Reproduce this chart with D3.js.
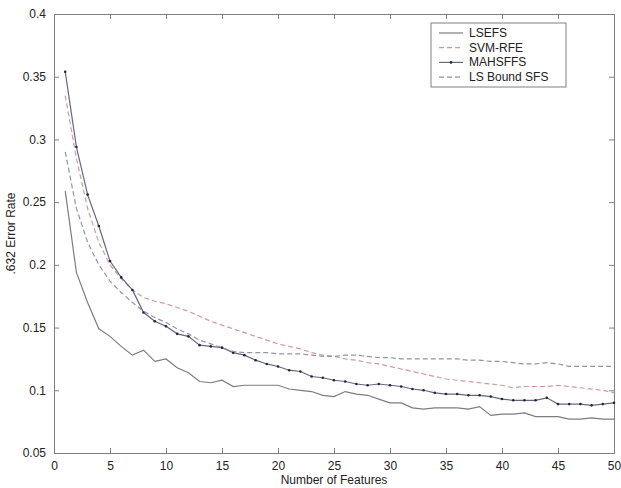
<!DOCTYPE html>
<html>
<head>
<meta charset="utf-8">
<script src="https://cdn.jsdelivr.net/npm/d3@7"></script>
<style>
  body { margin: 0; background: #fff; }
  svg { display: block; font-family: "Liberation Sans", Arial, sans-serif; }
</style>
</head>
<body>
<div id="chart"></div>
<script>
// feature counts 1..50
var features = [1,2,3,4,5,6,7,8,9,10,11,12,13,14,15,16,17,18,19,20,
  21,22,23,24,25,26,27,28,29,30,31,32,33,34,35,36,37,38,39,40,
  41,42,43,44,45,46,47,48,49,50];

var lsefs = [0.259,0.194,0.170,0.149,0.143,0.135,0.128,0.132,0.123,0.125,
  0.118,0.114,0.107,0.106,0.108,0.103,0.104,0.104,0.104,0.104,
  0.101,0.100,0.099,0.096,0.095,0.099,0.097,0.096,0.093,0.090,
  0.090,0.086,0.085,0.086,0.086,0.086,0.085,0.087,0.080,0.081,
  0.081,0.082,0.079,0.079,0.079,0.077,0.077,0.078,0.077,0.077];

var svmRfe = [0.335,0.285,0.245,0.218,0.200,0.189,0.180,0.174,0.171,0.169,
  0.166,0.163,0.159,0.155,0.152,0.149,0.146,0.143,0.140,0.137,
  0.135,0.133,0.130,0.128,0.127,0.125,0.124,0.122,0.121,0.119,
  0.117,0.115,0.113,0.111,0.109,0.108,0.107,0.106,0.105,0.104,
  0.102,0.103,0.103,0.103,0.104,0.103,0.102,0.101,0.100,0.098];

var mahsffs = [0.354,0.294,0.256,0.231,0.203,0.190,0.180,0.162,0.155,0.151,
  0.145,0.143,0.136,0.135,0.134,0.130,0.128,0.124,0.121,0.119,
  0.116,0.115,0.111,0.110,0.108,0.107,0.105,0.104,0.105,0.104,
  0.103,0.101,0.100,0.098,0.097,0.097,0.096,0.096,0.095,0.093,
  0.092,0.092,0.092,0.094,0.089,0.089,0.089,0.088,0.089,0.090];

var lsBound = [0.290,0.245,0.218,0.200,0.187,0.178,0.170,0.163,0.158,0.154,
  0.149,0.145,0.140,0.137,0.134,0.131,0.130,0.130,0.130,0.129,
  0.129,0.129,0.128,0.127,0.127,0.128,0.128,0.127,0.126,0.126,
  0.125,0.125,0.125,0.125,0.125,0.125,0.124,0.124,0.123,0.123,
  0.122,0.121,0.121,0.122,0.121,0.119,0.119,0.119,0.119,0.119];

var seriesNames = ['LSEFS', 'SVM-RFE', 'MAHSFFS', 'LS Bound SFS'];
var xTicks = [0,5,10,15,20,25,30,35,40,45,50];
var yTicks = [0.05,0.1,0.15,0.2,0.25,0.3,0.35,0.4];

function MyChart() {
    this.init = function() {
        this._config = {
            width: 621, height: 488,
            left: 54, right: 614, top: 14, bottom: 453
        };
        this._styles = [
            { color: '#7d7d7d', dash: null, dots: false },
            { color: '#d39a9e', dash: '5,3', dots: false },
            { color: '#666883', dash: null, dots: true },
            { color: '#9095a5', dash: '5,3', dots: false }
        ];
        this._initElements();
        this._drawAxes();
        this._drawLines();
        this._drawLegend();
    };

    this._initElements = function() {
        var c = this._config;
        this._svg = d3.select('#chart').append('svg')
            .attr('width', c.width).attr('height', c.height);
        this._x = d3.scaleLinear().domain([0, 50]).range([c.left, c.right]);
        this._y = d3.scaleLinear().domain([0.05, 0.4]).range([c.bottom, c.top]);
    };

    this._drawAxes = function() {
        var c = this._config, x = this._x, y = this._y, svg = this._svg;
        var axisColor = '#808080';
        var fmt = function(d) { return String(+d.toFixed(2)); };

        var bottom = svg.append('g').attr('transform', 'translate(0,' + c.bottom + ')')
            .call(d3.axisBottom(x).tickValues(xTicks).tickSizeInner(-5).tickSizeOuter(0).tickPadding(8));
        var top = svg.append('g').attr('transform', 'translate(0,' + c.top + ')')
            .call(d3.axisTop(x).tickValues(xTicks).tickSizeInner(-5).tickSizeOuter(0).tickFormat(''));
        var left = svg.append('g').attr('transform', 'translate(' + c.left + ',0)')
            .call(d3.axisLeft(y).tickValues(yTicks).tickSizeInner(-5).tickSizeOuter(0).tickPadding(8).tickFormat(fmt));
        var right = svg.append('g').attr('transform', 'translate(' + c.right + ',0)')
            .call(d3.axisRight(y).tickValues(yTicks).tickSizeInner(-5).tickSizeOuter(0).tickFormat(''));

        [bottom, top, left, right].forEach(function(g) {
            g.select('.domain').attr('stroke', axisColor);
            g.selectAll('.tick line').attr('stroke', axisColor);
            g.selectAll('.tick text').attr('fill', '#222').style('font-size', '12px')
                .style('font-family', '"Liberation Sans", Arial, sans-serif');
        });

        svg.append('text')
            .attr('x', (c.left + c.right) / 2).attr('y', 484)
            .attr('text-anchor', 'middle').attr('fill', '#222').style('font-size', '12px')
            .text('Number of Features');
        svg.append('text')
            .attr('transform', 'translate(15,' + ((c.top + c.bottom) / 2) + ') rotate(-90)')
            .attr('text-anchor', 'middle').attr('fill', '#222').style('font-size', '12px')
            .text('.632 Error Rate');
    };

    this._drawLines = function() {
        var x = this._x, y = this._y, svg = this._svg;
        var all = [lsefs, svmRfe, mahsffs, lsBound];
        var line = d3.line()
            .x(function(d, i) { return x(features[i]); })
            .y(function(d) { return y(d); });
        var self = this;
        all.forEach(function(vals, k) {
            var st = self._styles[k];
            svg.append('path').datum(vals)
                .attr('d', line)
                .attr('fill', 'none')
                .attr('stroke', st.color)
                .attr('stroke-width', 1.2)
                .attr('stroke-dasharray', st.dash);
            if (st.dots) {
                svg.append('g').selectAll('circle').data(vals).enter().append('circle')
                    .attr('cx', function(d, i) { return x(features[i]); })
                    .attr('cy', function(d) { return y(d); })
                    .attr('r', 1.3)
                    .attr('fill', '#23263a');
            }
        });
    };

    this._drawLegend = function() {
        var svg = this._svg, styles = this._styles;
        var g = svg.append('g').attr('transform', 'translate(431,23)');
        g.append('rect').attr('width', 135).attr('height', 64)
            .attr('fill', '#fff').attr('stroke', '#808080');
        var items = g.selectAll('g.item').data(seriesNames).enter().append('g')
            .attr('class', 'item')
            .attr('transform', function(d, i) { return 'translate(0,' + (10 + i * 14.7) + ')'; });
        items.append('line')
            .attr('x1', 8).attr('x2', 32).attr('y1', 0).attr('y2', 0)
            .attr('stroke', function(d, i) { return styles[i].color; })
            .attr('stroke-width', 1.2)
            .attr('stroke-dasharray', function(d, i) { return styles[i].dash; });
        items.filter(function(d, i) { return styles[i].dots; }).append('circle')
            .attr('cx', 20).attr('cy', 0).attr('r', 1.3).attr('fill', '#23263a');
        items.append('text')
            .attr('x', 38).attr('y', 4)
            .attr('fill', '#222').style('font-size', '12px')
            .text(function(d) { return d; });
    };

    this.init();
}

document.addEventListener('DOMContentLoaded', function() { window.myChart = new MyChart(); });
</script>
</body>
</html>
